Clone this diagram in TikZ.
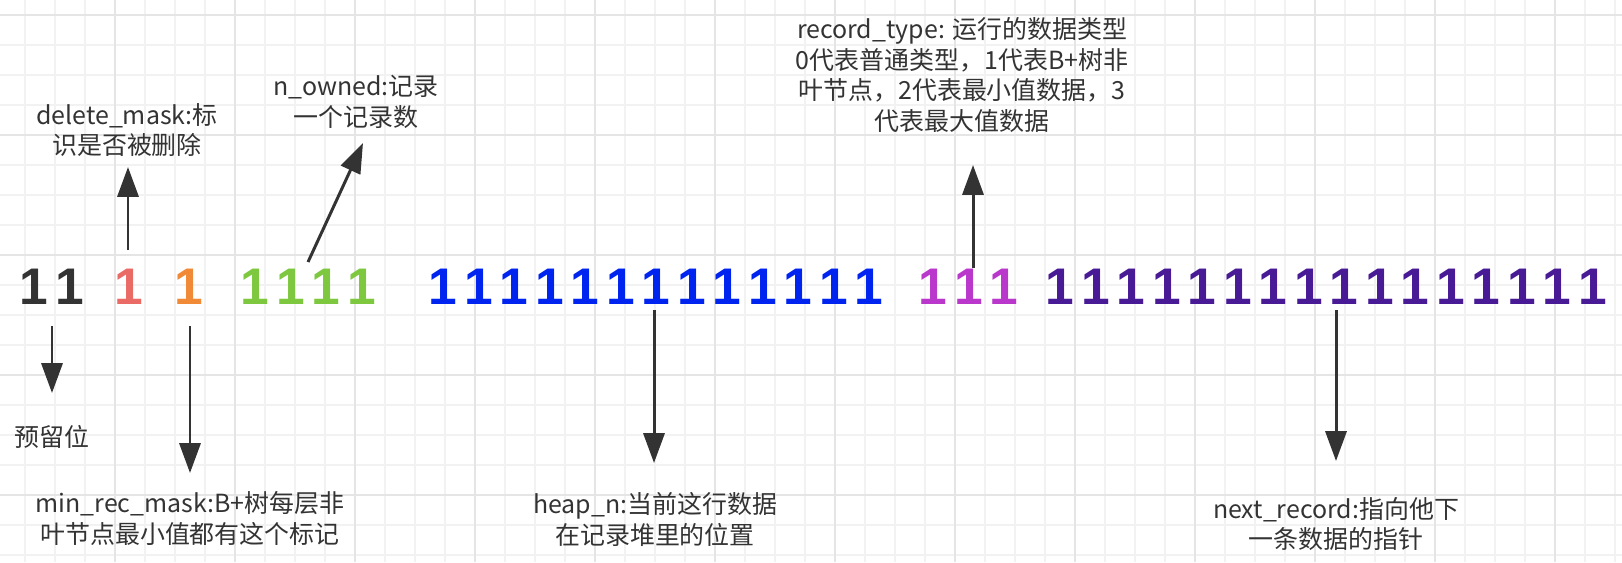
\documentclass[tikz,border=0pt]{standalone}
\usepackage{fontspec}
\setmainfont{Noto Sans CJK SC}
\setsansfont{Liberation Sans}[BoldFont={Liberation Sans Bold}]
\definecolor{inkgray}{RGB}{51, 51, 51}
\definecolor{gridminor}{RGB}{242, 242, 242}
\definecolor{gridmajor}{RGB}{229, 229, 229}
\definecolor{bitred}{RGB}{234, 107, 102}
\definecolor{bitorange}{RGB}{240, 138, 55}
\definecolor{bitgreen}{RGB}{126, 200, 64}
\definecolor{bitblue}{RGB}{0, 36, 240}
\definecolor{bitmagenta}{RGB}{186, 55, 204}
\definecolor{bitpurple}{RGB}{72, 26, 150}
\usetikzlibrary{arrows.meta}

\begin{document}
\begin{tikzpicture}[
    x=0.02cm, y=-0.02cm,
  ]

  \tikzset{
    grid-minor/.style={draw=gridminor, line width=0.6pt},
    grid-major/.style={draw=gridmajor, line width=0.85pt},
    bit/.style={
      font=\sffamily\bfseries\fontsize{29.3pt}{30pt}\selectfont,
      inner sep=0pt,
    },
    label-text/.style={
      font=\fontsize{14.2pt}{17.6pt}\selectfont,
      text=inkgray, align=center, inner sep=0pt,
    },
    pointer/.style={
      -{Triangle[length=17pt, width=12pt]},
      line width=1.7pt, draw=inkgray,
    },
  }

  \useasboundingbox (0, 0) rectangle (1622, 562);

  %% ---------------- BACKGROUND GRID ----------------
  \foreach \x in {25, 55, ..., 1615} \draw[grid-minor] (\x, 0) -- (\x, 562);
  \foreach \y in {15, 45, ..., 555} \draw[grid-minor] (0, \y) -- (1622, \y);
  \foreach \x in {115, 235, ..., 1555} \draw[grid-major] (\x, 0) -- (\x, 562);
  \foreach \y in {15, 135, ..., 495} \draw[grid-major] (0, \y) -- (1622, \y);

  %% ---------------- HEADER BITS ----------------
  % reserved
  \foreach \i in {1, 2}
    \node[bit, text=inkgray] (reserved-\i) at ({34 + 36*(\i-1)}, 287) {1};
  % delete flag and min-rec flag
  \node[bit, text=bitred] (delete-1) at (129, 287) {1};
  \node[bit, text=bitorange] (minrec-1) at (189, 287) {1};
  % n_owned
  \foreach \i in {1, ..., 4}
    \node[bit, text=bitgreen] (owned-\i) at ({255 + 35.5*(\i-1)}, 287) {1};
  % heap_n
  \foreach \i in {1, ..., 13}
    \node[bit, text=bitblue] (heap-\i) at ({443 + 35.5*(\i-1)}, 287) {1};
  % record_type
  \foreach \i in {1, 2, 3}
    \node[bit, text=bitmagenta] (type-\i) at ({933 + 35.5*(\i-1)}, 287) {1};
  % next_record
  \foreach \i in {1, ..., 16}
    \node[bit, text=bitpurple] (next-\i) at ({1060 + 35.5*(\i-1)}, 287) {1};

  %% ---------------- LABELS ----------------
  \node[label-text] (reserved-label) at (52, 437) {预留位};
  \node[label-text] (delete-label) at (127, 130) {delete\_mask:标\\识是否被删除};
  \node[label-text] (owned-label) at (356, 102) {n\_owned:记录\\一个记录数};
  \node[label-text] (minrec-label) at (190, 518)
    {min\_rec\_mask:B+树每层非\\叶节点最小值都有这个标记};
  \node[label-text] (heap-label) at (655, 519)
    {heap\_n:当前这行数据\\在记录堆里的位置};
  \node[label-text] (type-label) at (962, 75)
    {record\_type: 运行的数据类型\\0代表普通类型，1代表B+树非\\叶节点，2代表最小值数据，3\\代表最大值数据};
  \node[label-text] (next-label) at (1336, 524)
    {next\_record:指向他下\\一条数据的指针};

  %% ---------------- POINTERS ----------------
  \coordinate (reserved-tail) at (52, 326);
  \coordinate (reserved-tip) at (52, 393);
  \coordinate (delete-tail) at (128, 250);
  \coordinate (delete-tip) at (128, 167);
  \coordinate (owned-tail) at (308, 262);
  \coordinate (owned-tip) at (363, 143);
  \coordinate (minrec-tail) at (190, 326);
  \coordinate (minrec-tip) at (190, 473);
  \coordinate (heap-tail) at (654, 310);
  \coordinate (heap-tip) at (654, 463);
  \coordinate (type-tail) at (973, 268);
  \coordinate (type-tip) at (973, 165);
  \coordinate (next-tail) at (1336, 310);
  \coordinate (next-tip) at (1336, 461);

  \draw[pointer] (reserved-tail) -- (reserved-tip);
  \draw[pointer] (delete-tail) -- (delete-tip);
  \draw[pointer] (owned-tail) -- (owned-tip);
  \draw[pointer] (minrec-tail) -- (minrec-tip);
  \draw[pointer] (heap-tail) -- (heap-tip);
  \draw[pointer] (type-tail) -- (type-tip);
  \draw[pointer] (next-tail) -- (next-tip);

\end{tikzpicture}
\end{document}
